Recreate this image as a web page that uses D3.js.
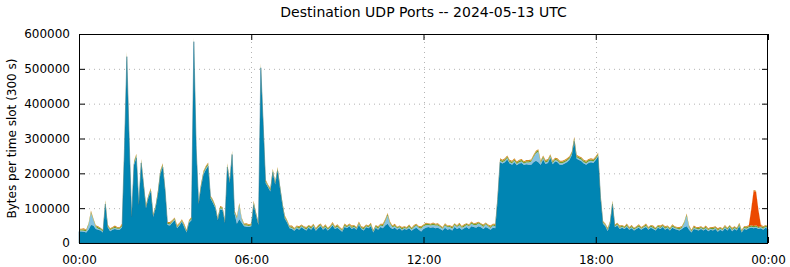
<!DOCTYPE html>
<html>
<head>
<meta charset="utf-8">
<script src="https://cdn.jsdelivr.net/npm/d3@7"></script>
<style>
  body { margin: 0; background: #fff; }
  text { font-family: "DejaVu Sans", sans-serif; fill: #000; }
</style>
</head>
<body>
<div id="chart"></div>
<script>
// one value per 300 s slot, in thousands of bytes
const slotSeconds = 300;

const portMain = [
  33,33,32,30,38,52,50,40,38,36,30,112,45,34,38,40,38,38,45,270,
  535,290,75,225,245,110,230,165,100,130,148,75,100,140,198,218,150,52,50,58,
  65,42,50,60,45,30,58,65,578,270,112,160,196,210,220,128,115,100,65,96,
  95,58,218,172,254,85,55,68,58,48,47,46,48,110,80,52,503,340,172,160,
  148,203,168,208,158,110,70,58,42,40,35,42,38,45,40,36,44,38,47,35,
  42,48,38,44,36,42,50,40,44,38,32,46,42,48,40,44,38,52,40,36,
  45,42,48,30,44,38,46,42,50,55,45,40,44,38,42,36,40,38,42,35,
  40,44,38,33,40,44,46,44,45,42,44,40,36,44,38,40,36,46,40,44,
  38,42,46,40,48,46,44,48,45,40,46,42,38,44,42,125,232,228,232,240,
  228,225,232,223,228,230,224,226,225,225,232,236,232,224,240,227,230,244,226,234,
  232,225,225,228,232,238,252,292,242,238,235,228,225,230,232,230,238,248,130,55,
  48,34,55,112,45,50,40,44,40,46,38,42,36,40,44,38,42,46,38,44,
  40,36,44,40,46,38,42,36,44,40,38,36,40,45,48,38,30,40,38,36,
  40,36,40,34,38,36,40,32,38,34,42,36,44,34,40,36,48,30,40,38,
  42,44,42,44,40,42,38,44,40
];

const portLight = [
  3,3,3,4,14,34,16,6,3,3,3,4,3,3,3,3,3,3,3,5,
  4,3,3,4,4,3,4,3,3,3,3,3,3,3,4,4,3,3,3,3,
  3,3,3,3,3,3,3,3,4,4,3,3,4,4,4,3,3,3,3,3,
  3,3,4,3,4,3,15,40,10,3,3,3,3,4,3,3,4,4,3,3,
  3,3,3,3,3,3,3,3,3,3,3,3,3,3,3,3,3,3,3,3,
  3,3,3,3,3,3,3,3,3,3,3,3,3,3,3,3,3,3,3,3,
  3,3,3,3,3,3,4,6,12,24,10,5,4,4,3,3,3,3,4,4,
  5,6,6,8,8,7,6,6,7,8,6,6,5,6,7,6,5,6,6,7,
  6,5,6,8,7,6,7,8,7,6,8,6,5,6,6,4,4,4,4,4,
  4,4,4,4,4,4,4,5,6,8,14,22,30,6,4,4,4,4,4,4,
  4,4,4,4,4,4,4,4,4,4,4,4,4,4,4,4,4,4,3,3,
  3,3,3,3,3,3,3,3,3,3,3,3,3,3,3,3,3,3,3,3,
  3,3,3,3,3,3,3,3,3,3,3,3,4,12,30,8,3,3,3,3,
  3,3,3,3,3,3,3,3,3,3,3,3,3,3,3,3,3,3,3,3,
  3,3,3,3,3,3,3,3,3
];

const portGreen = [
  3,3,4,3,3,4,3,3,4,3,3,4,3,3,3,4,3,3,4,4,
  5,4,3,4,4,3,4,3,4,3,4,3,3,4,4,4,3,3,4,3,
  3,4,3,3,4,3,3,4,5,4,3,4,4,4,4,3,4,3,3,4,
  3,3,4,3,4,3,4,4,3,3,4,3,3,4,3,3,5,4,4,3,
  4,4,3,4,3,3,4,3,3,4,3,3,4,3,3,4,3,4,3,3,
  4,3,3,4,3,3,4,3,4,3,3,4,3,3,4,3,3,4,3,4,
  3,3,4,3,3,4,3,4,4,4,4,3,4,3,3,4,3,3,4,3,
  4,3,3,4,3,4,3,3,4,3,4,3,3,4,3,3,4,3,3,4,
  3,4,3,3,4,3,4,3,3,4,3,3,4,3,4,4,4,4,4,4,
  4,4,4,4,4,4,4,4,4,4,4,4,4,4,4,4,4,4,4,4,
  4,4,4,4,4,4,4,5,4,4,4,4,4,4,4,4,4,4,4,3,
  3,4,3,4,3,3,4,3,3,4,3,4,3,3,4,3,3,4,3,3,
  4,3,3,4,3,4,3,3,4,3,3,4,3,3,4,3,3,4,3,4,
  3,3,4,3,3,4,3,4,3,3,4,3,3,4,3,3,4,3,3,4,
  3,4,4,4,3,3,4,3,3
];

const portRed = [
  0,0,0,0,0,0,0,0,0,0,0,0,0,0,0,0,0,0,0,0,
  0,0,0,0,0,0,0,0,0,0,0,0,0,0,0,0,0,0,0,0,
  0,0,0,0,0,0,0,0,0,0,0,0,0,0,0,0,0,0,0,0,
  0,0,0,0,0,0,0,0,0,0,0,0,0,0,0,0,0,0,0,0,
  0,0,0,0,0,0,0,0,0,0,0,0,0,0,0,0,0,0,0,0,
  0,0,0,0,0,0,0,0,0,0,0,0,0,0,0,0,0,0,0,0,
  0,0,0,0,0,0,0,0,0,0,0,0,0,0,0,0,0,0,0,0,
  0,0,0,0,0,0,0,0,0,0,0,0,0,0,0,0,0,0,0,0,
  0,0,0,0,0,0,0,0,0,0,0,0,0,0,0,0,0,0,0,0,
  0,0,0,0,0,0,0,0,0,0,0,0,0,0,0,0,0,0,0,0,
  0,0,0,0,0,0,0,0,0,0,0,0,0,0,0,0,0,0,0,0,
  0,0,0,0,0,0,0,0,0,0,0,0,0,0,0,0,0,0,0,0,
  0,0,0,0,0,0,0,0,0,0,0,0,0,0,0,0,0,0,0,0,
  0,0,0,0,0,0,0,0,0,0,0,0,0,0,0,0,0,0,0,0,
  2,45,100,96,48,4,0,0,0
];

const portOrange = [
  2,2,3,2,2,3,2,2,3,2,2,3,2,2,2,3,2,2,3,3,
  4,3,2,3,3,2,3,2,3,2,3,2,2,3,3,3,2,2,3,2,
  2,3,2,2,3,2,2,3,4,3,2,3,3,3,3,2,3,2,2,3,
  2,2,3,2,3,2,3,3,2,2,3,2,2,3,2,2,4,3,3,2,
  3,3,2,3,2,2,3,2,2,3,2,2,3,2,2,3,2,3,2,2,
  3,2,2,3,2,2,3,2,3,2,2,3,2,2,3,2,2,3,2,3,
  2,2,3,2,2,3,2,3,3,3,3,2,3,2,2,3,2,2,3,2,
  3,2,2,3,2,3,2,2,3,2,3,2,2,3,2,2,3,2,2,3,
  2,3,2,2,3,2,3,2,2,3,2,2,3,2,3,3,3,3,3,3,
  3,3,3,3,3,3,3,3,3,3,3,3,3,3,3,3,3,3,3,3,
  3,3,3,3,3,3,3,4,3,3,3,3,3,3,3,3,3,3,3,2,
  2,3,2,3,2,2,3,2,2,3,2,3,2,2,3,2,2,3,2,2,
  3,2,2,3,2,3,2,2,3,2,2,3,2,2,3,2,2,3,2,3,
  2,2,3,2,2,3,2,3,2,2,3,2,2,3,2,2,3,2,2,3,
  2,3,3,3,2,2,3,2,2
];

const seriesKeys = ['main', 'light', 'green', 'red', 'orange'];
const seriesColors = {
  main: '#0085b3',
  light: '#86c2e2',
  green: '#6f9d2c',
  red: '#ec4a00',
  orange: '#d3861c'
};

const xTickHours = [0, 6, 12, 18, 24];
const yTicks = [0, 100000, 200000, 300000, 400000, 500000, 600000];

const width = 790, height = 267;
const margin = { top: 34, right: 22, bottom: 24, left: 79 };

// build table: one row per slot
const table = portMain.map((v, i) => ({
  t: i * slotSeconds,
  main: v * 1000,
  light: portLight[i] * 1000,
  green: portGreen[i] * 1000,
  red: portRed[i] * 1000,
  orange: portOrange[i] * 1000
}));

const svg = d3.select('#chart')
  .append('svg')
  .attr('width', width)
  .attr('height', height);

const x = d3.scaleLinear()
  .domain([0, 86400])
  .range([margin.left, width - margin.right]);

const y = d3.scaleLinear()
  .domain([0, 600000])
  .range([height - margin.bottom, margin.top]);

// grid
svg.append('g')
  .selectAll('line')
  .data(yTicks.slice(1, -1))
  .enter()
  .append('line')
  .attr('x1', x.range()[0])
  .attr('x2', x.range()[1])
  .attr('y1', d => y(d) + 0.5)
  .attr('y2', d => y(d) + 0.5)
  .style('stroke', '#b4b4b4')
  .style('stroke-dasharray', '1,4');

svg.append('g')
  .selectAll('line')
  .data(xTickHours.slice(1, -1))
  .enter()
  .append('line')
  .attr('x1', d => Math.round(x(d * 3600)) + 0.5)
  .attr('x2', d => Math.round(x(d * 3600)) + 0.5)
  .attr('y1', y.range()[0])
  .attr('y2', y.range()[1])
  .style('stroke', '#b4b4b4')
  .style('stroke-dasharray', '1,4');

// stacked areas
const stack = d3.stack().keys(seriesKeys);
const layers = stack(table);

const area = d3.area()
  .x(d => x(d.data.t))
  .y0(d => y(d[0]))
  .y1(d => y(d[1]));

svg.append('g')
  .selectAll('path')
  .data(layers)
  .enter()
  .append('path')
  .attr('d', area)
  .style('fill', d => seriesColors[d.key])
  .style('stroke', d => d.key === 'main' ? '#1c6f8c' : 'none')
  .style('stroke-width', 0.5);

// axes with inward ticks, mirrored
const fmtHour = h => String(h % 24).padStart(2, '0') + ':00';

svg.append('g')
  .attr('transform', `translate(${margin.left},0)`)
  .call(d3.axisLeft(y).tickValues(yTicks).tickSize(-6).tickPadding(9).tickFormat(d3.format('d')))
  .call(g => g.select('.domain').remove())
  .call(g => g.selectAll('text').style('font-size', '12px').style('font-family', '"DejaVu Sans", sans-serif'));

svg.append('g')
  .attr('transform', `translate(${width - margin.right},0)`)
  .call(d3.axisRight(y).tickValues(yTicks).tickSize(-6).tickFormat(''))
  .call(g => g.select('.domain').remove());

svg.append('g')
  .attr('transform', `translate(0,${height - margin.bottom})`)
  .call(d3.axisBottom(x).tickValues(xTickHours.map(h => h * 3600)).tickSize(-6).tickPadding(12)
    .tickFormat(d => fmtHour(d / 3600)))
  .call(g => g.select('.domain').remove())
  .call(g => g.selectAll('text').style('font-size', '12px').style('font-family', '"DejaVu Sans", sans-serif'));

svg.append('g')
  .attr('transform', `translate(0,${margin.top})`)
  .call(d3.axisTop(x).tickValues(xTickHours.map(h => h * 3600)).tickSize(-6).tickFormat(''))
  .call(g => g.select('.domain').remove());

// frame
svg.append('rect')
  .attr('x', margin.left + 0.5)
  .attr('y', margin.top + 0.5)
  .attr('width', width - margin.left - margin.right - 1)
  .attr('height', height - margin.top - margin.bottom)
  .style('fill', 'none')
  .style('stroke', '#000')
  .style('stroke-width', 1);

// title and y label
svg.append('text')
  .attr('x', (margin.left + width - margin.right) / 2)
  .attr('y', 17)
  .attr('text-anchor', 'middle')
  .style('font-size', '14px')
  .text('Destination UDP Ports -- 2024-05-13 UTC');

svg.append('text')
  .attr('transform', `translate(16,${(margin.top + height - margin.bottom) / 2}) rotate(-90)`)
  .attr('text-anchor', 'middle')
  .style('font-size', '12px')
  .text('Bytes per time slot (300 s)');
</script>
</body>
</html>
